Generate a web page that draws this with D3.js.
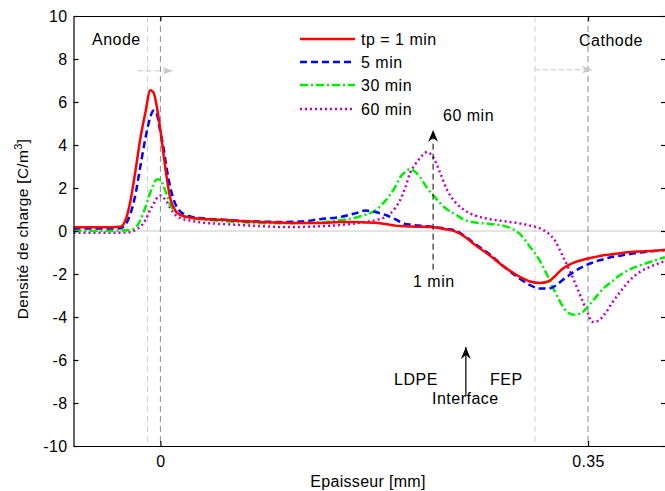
<!DOCTYPE html>
<html><head><meta charset="utf-8">
<script src="https://cdn.jsdelivr.net/npm/d3@7/dist/d3.min.js"></script>
<style>
html,body{margin:0;padding:0;background:#fff;}
svg text{font-family:"Liberation Sans",Arial,sans-serif;fill:#000;}
</style></head>
<body>
<script>
// ---- data (thickness in mm, charge density in C/m^3) ----
const xMm = [-0.0711,-0.0409,-0.0327,-0.0286,-0.0245,-0.0204,-0.0164,-0.0123,-0.0082,-0.0057,-0.0033,0,
 0.0025,0.0049,0.0082,0.0123,0.0164,0.0245,0.0327,0.0491,0.0654,0.0818,0.0981,0.1145,0.1308,0.1472,
 0.1595,0.1676,0.1758,0.1840,0.1922,0.1963,0.2003,0.2044,0.2085,0.2126,0.2183,0.2232,0.2290,0.2347,
 0.2412,0.2494,0.2576,0.2699,0.2821,0.2944,0.3026,0.3107,0.3173,0.3230,0.3287,0.3336,0.3394,0.3451,
 0.3500,0.3532,0.3582,0.3639,0.3696,0.3762,0.3843,0.3925,0.4007,0.4129];
const tp1min = [0.18,0.18,0.2,0.5,1.4,2.8,4.3,5.5,6.55,6.45,5.9,4.7,
 3.6,2.6,1.5,0.95,0.75,0.62,0.57,0.52,0.47,0.42,0.39,0.37,0.37,0.42,
 0.42,0.4,0.38,0.33,0.25,0.23,0.22,0.21,0.2,0.2,0.19,0.18,0.13,0.07,
 -0.02,-0.28,-0.65,-1.15,-1.7,-2.14,-2.35,-2.42,-2.35,-2.1,-1.78,-1.6,-1.45,-1.35,
 -1.28,-1.24,-1.18,-1.12,-1.08,-1.04,-0.98,-0.95,-0.93,-0.88];
const tp5min = [0.12,0.12,0.13,0.3,0.8,1.7,3.0,4.3,5.3,5.6,5.5,4.6,
 3.9,3.0,2.0,1.25,0.9,0.68,0.6,0.53,0.47,0.44,0.42,0.44,0.55,0.65,
 0.82,0.95,0.88,0.75,0.55,0.42,0.33,0.3,0.27,0.25,0.22,0.2,0.15,0.1,
 0.03,-0.25,-0.6,-1.1,-1.7,-2.23,-2.52,-2.68,-2.68,-2.56,-2.3,-2.1,-1.86,-1.68,
 -1.55,-1.48,-1.38,-1.3,-1.2,-1.15,-1.07,-1.0,-0.95,-0.88];
const tp30min = [0.0,0.0,0.02,0.03,0.05,0.15,0.5,1.1,1.8,2.15,2.4,2.4,
 2.1,1.75,1.2,0.9,0.75,0.6,0.55,0.47,0.42,0.37,0.36,0.37,0.4,0.5,
 0.62,0.75,0.95,1.4,2.05,2.5,2.75,2.88,2.75,2.5,2.0,1.67,1.3,1.0,
 0.78,0.5,0.4,0.33,0.22,-0.15,-0.74,-1.4,-2.14,-2.84,-3.44,-3.8,-3.9,-3.8,
 -3.5,-3.3,-2.95,-2.6,-2.35,-2.05,-1.78,-1.6,-1.44,-1.22];
const tp60min = [-0.08,-0.08,-0.08,-0.07,-0.05,0.05,0.2,0.5,1.0,1.25,1.5,1.65,
 1.55,1.4,1.05,0.75,0.6,0.48,0.4,0.33,0.28,0.23,0.19,0.19,0.22,0.28,
 0.35,0.42,0.5,0.65,1.07,1.45,2.0,2.7,3.1,3.4,3.67,3.44,2.7,1.9,
 1.35,0.95,0.72,0.55,0.45,0.35,0.25,0.12,-0.1,-0.45,-1.1,-1.67,-2.42,-3.2,
 -3.85,-4.23,-4.18,-3.85,-3.35,-2.84,-2.28,-1.9,-1.67,-1.4];
const seriesNames = ["tp = 1 min","5 min","30 min","60 min"];
const yTicks = [-10,-8,-6,-4,-2,0,2,4,6,8,10];
const xTicks = [0,0.35];
const xTickLabels = ["0","0.35"];
const electrodeLines = [0,0.35];        // dark dashed
const shiftedLines = [-0.0106,0.3066];   // light dashed
const interfaceX = 0.25;
const evolutionX = 0.2232;

// ---- layout ----
const W=665,H=491;
const m={left:73.5,right:666,top:16,bottom:446};
const x=d3.scaleLinear().domain([-0.0711,0.4138]).range([m.left,m.right]);
const y=d3.scaleLinear().domain([-10,10]).range([m.bottom,m.top]);

const svg=d3.select("body").append("svg").attr("width",W).attr("height",H);
const FS="16px";

// zero line
svg.append("line").attr("x1",m.left).attr("x2",m.right).attr("y1",y(0)).attr("y2",y(0))
  .attr("stroke","#c8c8c8").attr("stroke-width",1);

// vertical reference lines
svg.selectAll(".lref").data(shiftedLines).enter().append("line")
  .attr("x1",d=>x(d)).attr("x2",d=>x(d)).attr("y1",m.top).attr("y2",m.bottom)
  .attr("stroke","#cfcfcf").attr("stroke-width",1).attr("stroke-dasharray","6,4");
svg.selectAll(".dref").data(electrodeLines).enter().append("line")
  .attr("x1",d=>x(d)).attr("x2",d=>x(d)).attr("y1",m.top).attr("y2",m.bottom)
  .attr("stroke","#8a8a8a").attr("stroke-width",1).attr("stroke-dasharray","6,4");

// gray shift arrows
const defs=svg.append("defs");
defs.append("marker").attr("id","garrow").attr("viewBox","0 0 10 10").attr("refX",10).attr("refY",5)
  .attr("markerWidth",10).attr("markerHeight",10).attr("markerUnits","userSpaceOnUse").attr("orient","auto")
  .append("path").attr("d","M0,1 L10,5 L0,9 L3,5 Z").attr("fill","#c8c8c8");
const shiftArrows=[[-0.0180,0.0098,7.45],[0.3066,0.3532,7.5]];
svg.selectAll(".sarr").data(shiftArrows).enter().append("line")
  .attr("x1",d=>x(d[0])).attr("x2",d=>x(d[1])).attr("y1",d=>y(d[2])).attr("y2",d=>y(d[2]))
  .attr("stroke","#c8c8c8").attr("stroke-width",1).attr("stroke-dasharray","5,3")
  .attr("marker-end","url(#garrow)");

// curves
const colors=["#ff0000","#0000ff","#00ee00","#c000c0"];
const dashes=[null,"7,4","8,3,2,3","2,3"];
const all=[tp1min,tp5min,tp30min,tp60min];
const line=d3.line().x((d,i)=>x(xMm[i])).y(d=>y(d)).curve(d3.curveMonotoneX);
const clip=defs.append("clipPath").attr("id","clip").append("rect")
  .attr("x",m.left).attr("y",m.top).attr("width",m.right-m.left).attr("height",m.bottom-m.top);
const g=svg.append("g").attr("clip-path","url(#clip)");
[3,2,1,0].forEach(k=>{
  g.append("path").attr("d",line(all[k])).attr("fill","none").attr("stroke",colors[k])
   .attr("stroke-width",2.5).attr("stroke-dasharray",dashes[k]);
});

// axes
const fmtY=d=>String(d);
const ax=svg.append("g").attr("transform",`translate(${m.left},0)`)
  .call(d3.axisLeft(y).tickValues(yTicks).tickFormat(fmtY).tickSizeInner(-5).tickSizeOuter(0).tickPadding(6));
const ar=svg.append("g").attr("transform",`translate(${m.right},0)`)
  .call(d3.axisRight(y).tickValues(yTicks).tickFormat("").tickSizeInner(-5).tickSizeOuter(0));
const ab=svg.append("g").attr("transform",`translate(0,${m.bottom})`)
  .call(d3.axisBottom(x).tickValues(xTicks).tickFormat((d,i)=>xTickLabels[i]).tickSizeInner(-5).tickSizeOuter(0).tickPadding(10));
const at=svg.append("g").attr("transform",`translate(0,${m.top})`)
  .call(d3.axisTop(x).tickValues(xTicks).tickFormat("").tickSizeInner(-5).tickSizeOuter(0));
[ax,ar,ab,at].forEach(a=>{
  a.selectAll("path,line").attr("stroke","#000").attr("stroke-width",1.2);
  a.selectAll("text").attr("font-size",FS).attr("fill","#000").attr("letter-spacing","0.4px")
   .attr("font-family","Liberation Sans, Arial, sans-serif");
});

// axis labels
svg.append("text").attr("x",368).attr("y",487).attr("text-anchor","middle").attr("font-size",FS)
  .attr("letter-spacing","0.3px").text("Epaisseur [mm]");
const yl=svg.append("text").attr("transform","translate(28,229) rotate(-90)").attr("text-anchor","middle")
  .attr("font-size","15.5px").attr("letter-spacing","0.3px");
yl.append("tspan").text("Densité de charge [C/m");
yl.append("tspan").attr("dy",-6).attr("font-size","11px").text("3");
yl.append("tspan").attr("dy",6).text("]");

// annotations
function label(t,xx,yy,anchor){svg.append("text").attr("x",xx).attr("y",yy).attr("font-size",FS)
  .attr("letter-spacing","0.5px").attr("text-anchor",anchor||"start").text(t);}
label("Anode",92,45);
label("Cathode",579,46);
label("60 min",443,121);
label("1 min",413,287);
label("LDPE",394,385);
label("FEP",490,385);
label("Interface",432,404);

// black arrows
defs.append("marker").attr("id","barrow").attr("viewBox","0 0 10 12").attr("refX",5).attr("refY",0)
  .attr("markerWidth",10).attr("markerHeight",12).attr("markerUnits","userSpaceOnUse").attr("orient","0")
  .append("path").attr("d","M5,0 L10,12 L5,8 L0,12 Z").attr("fill","#000");
svg.append("line").attr("x1",x(evolutionX)).attr("x2",x(evolutionX)).attr("y1",y(-1.8)).attr("y2",y(4.7))
  .attr("stroke","#000").attr("stroke-width",1).attr("stroke-dasharray","6,4").attr("marker-end","url(#barrow)");
svg.append("line").attr("x1",x(interfaceX)).attr("x2",x(interfaceX)).attr("y1",y(-7.7)).attr("y2",y(-5.4))
  .attr("stroke","#000").attr("stroke-width",1.2).attr("marker-end","url(#barrow)");

// legend
const lg=svg.append("g");
const ly=[39,62,85,109];
seriesNames.forEach((n,k)=>{
  lg.append("line").attr("x1",300).attr("x2",355).attr("y1",ly[k]).attr("y2",ly[k])
    .attr("stroke",colors[k]).attr("stroke-width",2.5).attr("stroke-dasharray",dashes[k]);
  lg.append("text").attr("x",361).attr("y",ly[k]+5.5).attr("font-size",FS).attr("letter-spacing","0.5px").text(n);
});
</script>
</body></html>
